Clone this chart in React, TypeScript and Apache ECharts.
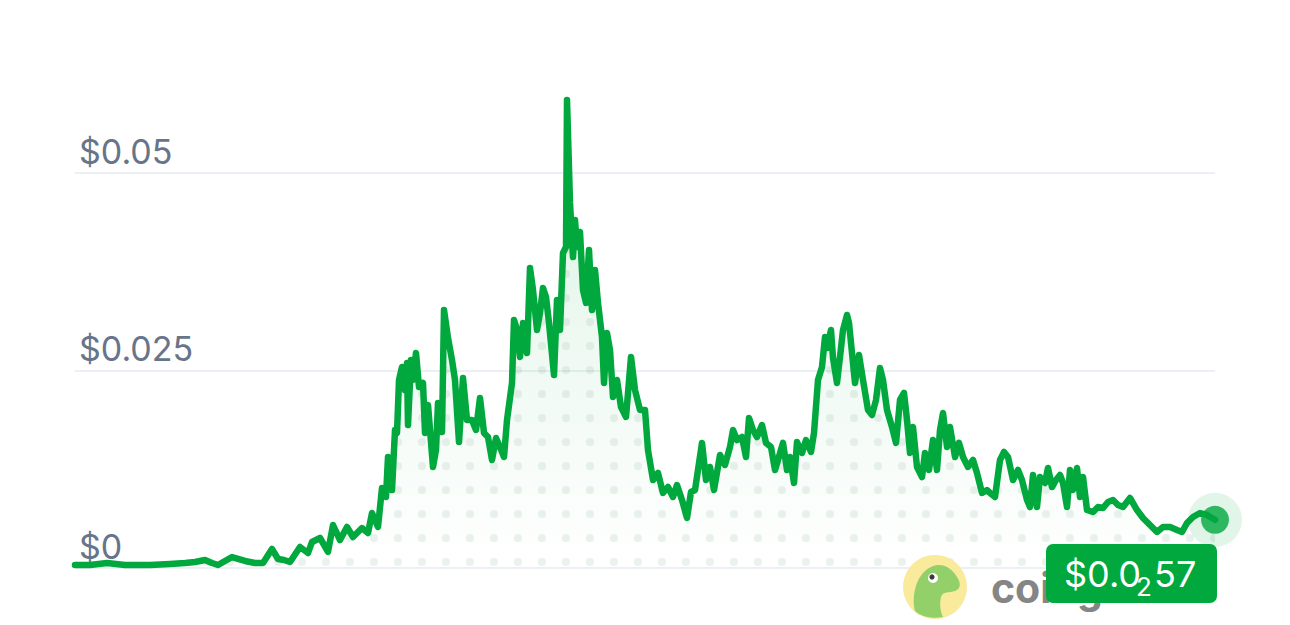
import React, { useEffect, useRef } from "react";
import * as echarts from "echarts";

// day offsets (sampling positions) and prices
const days = [
  0, 15, 32, 50, 75, 95, 110, 120, 130, 137, 143, 157, 170, 180, 188, 197, 203, 209, 215,
  225, 233, 237, 245, 253, 258, 265, 272, 278, 287, 293, 297, 303, 307, 311, 313, 317, 320,
  322, 324, 327, 330, 332, 333, 336, 338, 341, 344, 348, 350, 353, 358, 361, 363, 367, 369,
  373, 377, 380, 384, 388, 392, 397, 401, 405, 409, 413, 417, 421, 425, 429, 432, 437, 439,
  442, 445, 448, 452, 455, 458, 462, 465, 468, 471, 474, 479, 482, 485, 488, 491, 492, 495,
  498, 500, 502, 505, 508, 511, 514, 517, 520, 523, 527, 529, 532, 535, 538, 542, 546, 551,
  556, 560, 565, 570, 573, 578, 583, 588, 593, 598, 602, 607, 612, 616, 620, 627, 631, 635,
  639, 645, 650, 655, 658, 662, 667, 671, 674, 678, 682, 687, 691, 696, 700, 703, 708, 712,
  715, 719, 722, 727, 731, 736, 739, 743, 747, 750, 752, 756, 758, 762, 765, 768, 772, 774,
  777, 780, 784, 788, 793, 797, 801, 805, 808, 812, 817, 821, 825, 829, 832, 835, 838, 842,
  847, 850, 854, 858, 862, 865, 868, 872, 875, 880, 884, 888, 893, 898, 902, 907, 912, 915,
  920, 925, 929, 933, 938, 943, 947, 952, 955, 958, 962, 965, 970, 973, 977, 981, 985, 988,
  992, 995, 998, 1002, 1005, 1008, 1012, 1018, 1023, 1028, 1033, 1038, 1043, 1048, 1055,
  1062, 1068, 1075, 1082, 1088, 1095, 1102, 1107, 1112, 1118, 1125, 1132, 1140,
];

const prices = [
  0.00038, 0.00038, 0.00063, 0.00038, 0.00038, 0.00051, 0.00063, 0.00076, 0.00101, 0.00063,
  0.00038, 0.00139, 0.00089, 0.00063, 0.00063, 0.00241, 0.00114, 0.00101, 0.00076,
  0.00266, 0.0019, 0.00329, 0.0038, 0.00203, 0.00544, 0.00354, 0.00519, 0.00392, 0.00506,
  0.00443, 0.00696, 0.00519, 0.01013, 0.00899, 0.01405, 0.00987, 0.01747,
  0.01709, 0.0238, 0.02545, 0.02253, 0.02595, 0.0181, 0.02633, 0.0238, 0.02722, 0.02291,
  0.02342, 0.01709, 0.02064, 0.01279, 0.01494, 0.02089, 0.01722, 0.03266,
  0.02912, 0.02633, 0.0238, 0.01595, 0.02405, 0.01874, 0.01874, 0.01747, 0.02152, 0.01709,
  0.01658, 0.01367, 0.01646, 0.01532, 0.01405, 0.01874, 0.02342, 0.0314,
  0.03013, 0.02671, 0.03102, 0.02722, 0.03798, 0.03519, 0.03013, 0.03228, 0.03545, 0.03431,
  0.03102, 0.02443, 0.03393, 0.03013, 0.03988, 0.04064, 0.05925, 0.04621,
  0.03937, 0.04406, 0.04064, 0.04254, 0.03519, 0.03355, 0.04026, 0.03266, 0.03773, 0.03355,
  0.02924, 0.02342, 0.02975, 0.0276, 0.02165, 0.0238, 0.02038, 0.01912,
  0.02671, 0.02253, 0.02, 0.02, 0.01494, 0.01114, 0.01203, 0.0095, 0.01025, 0.00899, 0.01051,
  0.00861, 0.00633, 0.00962, 0.00987, 0.01583, 0.01114, 0.01279,
  0.00987, 0.01431, 0.01304, 0.01532, 0.01747, 0.0162, 0.01658, 0.01405, 0.01899, 0.01747,
  0.01658, 0.0181, 0.01583, 0.01532, 0.01241, 0.01367, 0.01583, 0.01241,
  0.01405, 0.01076, 0.01595, 0.01456, 0.0162, 0.01469, 0.01709, 0.0238, 0.02545, 0.02924,
  0.02785, 0.03013, 0.02659, 0.02342, 0.02671, 0.03013, 0.03203, 0.03102,
  0.02722, 0.02342, 0.02697, 0.0238, 0.02, 0.01937, 0.02127, 0.02532, 0.0238, 0.02, 0.01785,
  0.01583, 0.02127, 0.02216, 0.01874, 0.01456, 0.01785, 0.01279,
  0.01152, 0.01456, 0.01241, 0.0162, 0.01241, 0.01747, 0.01962, 0.01532, 0.01785, 0.01405,
  0.01583, 0.01405, 0.01279, 0.01367, 0.01203, 0.0095, 0.00987, 0.0095,
  0.00899, 0.01367, 0.01469, 0.01405, 0.01114, 0.01241, 0.01114, 0.00861, 0.00772, 0.01177,
  0.00772, 0.01152, 0.01076, 0.01266, 0.01025, 0.01114, 0.01177, 0.01076,
  0.00772, 0.01241, 0.00987, 0.01266, 0.00899, 0.01152, 0.00734, 0.00709, 0.00772, 0.0076,
  0.00836, 0.00861, 0.00798, 0.00772, 0.00886,
  0.00734, 0.00633, 0.00544, 0.00456, 0.00519, 0.00519, 0.00481, 0.00456, 0.0057, 0.00646,
  0.00696, 0.00671, 0.0061,
];

const yTicks = [0, 0.025, 0.05];
const yTickLabels = ["$0", "$0.025", "$0.05"];
const priceParts = ["$0.0", "2", "57"];
const brandName = "coingecko";

const GREEN = "#00A83E";
const FONT = "Inter, 'Noto Sans', 'Liberation Sans', sans-serif";

const geckoPath =
  "M 12 56 C 8 40 14 18 28 12 C 38 7 48 12 54 22 C 58 28 58 34 52 36 C 46 38 40 36 38 42 C 36 50 38 58 40 62 C 30 64 18 62 12 56 Z";

export default function App() {
  const ref = useRef<HTMLDivElement>(null);

  useEffect(() => {
    document.body.style.margin = "0";
    const el = ref.current!;
    const chart = echarts.init(el, null, { renderer: "svg" });

    try {
      echarts.graphic.registerShape("gecko", echarts.graphic.extendPath(geckoPath, {}));
    } catch (e) {}

    const tile = document.createElement("canvas");
    tile.width = 24;
    tile.height = 24;
    const ctx = tile.getContext("2d")!;
    ctx.fillStyle = "rgba(110,160,130,0.2)";
    ctx.beginPath();
    ctx.arc(14, 10, 4, 0, Math.PI * 2);
    ctx.fill();

    const lineData = days.map((d, i) => [d, prices[i]]);
    const last = lineData[lineData.length - 1];

    chart.setOption({
      animation: false,
      grid: { left: 75, right: 75, top: 173, bottom: 57, containLabel: false },
      xAxis: {
        type: "value",
        min: days[0],
        max: days[days.length - 1],
        show: false,
      },
      yAxis: {
        type: "value",
        min: yTicks[0],
        max: yTicks[yTicks.length - 1],
        interval: yTicks[1] - yTicks[0],
        axisLine: { show: false },
        axisTick: { show: false },
        splitLine: { lineStyle: { color: "#ECEFF3", width: 2 } },
        axisLabel: {
          inside: true,
          margin: 4,
          verticalAlign: "bottom",
          padding: [0, 0, 5, 0],
          color: "#677489",
          fontSize: 34,
          fontFamily: FONT,
          formatter: (v: number) => {
            const i = yTicks.findIndex((t) => Math.abs(t - v) < 1e-9);
            return i >= 0 ? yTickLabels[i] : "";
          },
        },
      },
      series: [
        {
          type: "line",
          data: lineData,
          showSymbol: false,
          clip: false,
          silent: true,
          lineStyle: { width: 0 },
          areaStyle: {
            color: {
              type: "linear",
              x: 0,
              y: 0,
              x2: 0,
              y2: 1,
              colorStops: [
                { offset: 0, color: "rgba(0,168,62,0.26)" },
                { offset: 0.45, color: "rgba(0,168,62,0.11)" },
                { offset: 1, color: "rgba(0,168,62,0.0)" },
              ],
            },
          },
          z: 1,
        },
        {
          type: "line",
          data: lineData,
          showSymbol: false,
          clip: false,
          silent: true,
          lineStyle: { width: 0 },
          areaStyle: { color: { image: tile, repeat: "repeat" } },
          z: 2,
        },
        {
          type: "line",
          data: lineData,
          showSymbol: false,
          clip: false,
          silent: true,
          lineStyle: { width: 6.5, color: GREEN, join: "round", cap: "round" },
          z: 3,
        },
        {
          type: "scatter",
          data: [last],
          symbolSize: 54,
          itemStyle: { color: "rgba(0,168,62,0.14)" },
          silent: true,
          z: 4,
        },
        {
          type: "scatter",
          data: [last],
          symbolSize: 28,
          itemStyle: { color: GREEN },
          silent: true,
          z: 5,
        },
      ],
      graphic: [
        {
          type: "circle",
          shape: { cx: 935, cy: 587, r: 32 },
          style: { fill: "#F9EA9C" },
          z: 10,
        },
        {
          type: "gecko",
          x: 903,
          y: 555,
          scaleX: 1,
          scaleY: 1,
          style: { fill: "#93D06A" },
          z: 11,
        },
        {
          type: "circle",
          shape: { cx: 933, cy: 578, r: 5 },
          style: { fill: "#ffffff" },
          z: 12,
        },
        {
          type: "circle",
          shape: { cx: 932, cy: 577, r: 2.6 },
          style: { fill: "#3a3a3a" },
          z: 13,
        },
        {
          type: "text",
          x: 991,
          y: 588,
          style: {
            text: brandName,
            fill: "#858585",
            font: `bold 41px ${FONT}`,
            verticalAlign: "middle",
          },
          z: 10,
        },
        {
          type: "rect",
          shape: { x: 1046, y: 544, width: 171, height: 59, r: 7 },
          style: { fill: GREEN },
          z: 20,
        },
        {
          type: "text",
          x: 1064,
          y: 574,
          style: {
            text: priceParts[0],
            fill: "#ffffff",
            font: `36px ${FONT}`,
            verticalAlign: "middle",
          },
          z: 21,
        },
        {
          type: "text",
          x: 1136,
          y: 586,
          style: {
            text: priceParts[1],
            fill: "#ffffff",
            font: `26px ${FONT}`,
            verticalAlign: "middle",
          },
          z: 21,
        },
        {
          type: "text",
          x: 1154,
          y: 574,
          style: {
            text: priceParts[2],
            fill: "#ffffff",
            font: `36px ${FONT}`,
            verticalAlign: "middle",
          },
          z: 21,
        },
      ],
    });

    return () => chart.dispose();
  }, []);

  return (
    <div
      ref={ref}
      style={{ position: "absolute", left: 0, top: 0, width: 1290, height: 625 }}
    />
  );
}
